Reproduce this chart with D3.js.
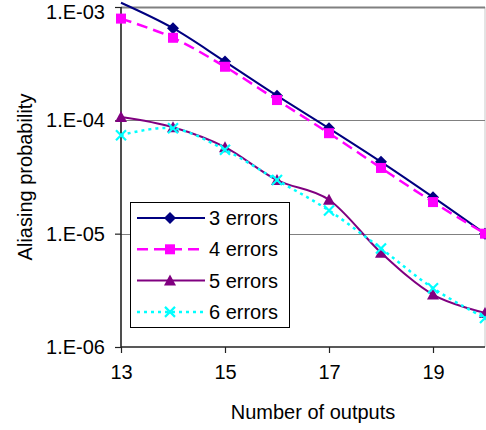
<!DOCTYPE html>
<html>
<head>
<meta charset="utf-8">
<script src="https://cdn.jsdelivr.net/npm/d3@7"></script>
<style>
  body { margin: 0; background: #fff; }
  text { font-family: "Liberation Sans", Arial, sans-serif; fill: #000; }
</style>
</head>
<body>
<script>
// Chart values
var outputs = [13, 14, 15, 16, 17, 18, 19, 20];
var errors3 = [1.09e-3, 6.5e-4, 3.3e-4, 1.65e-4, 8.5e-5, 4.3e-5, 2.1e-5, 1.0e-5];
var errors4 = [7.9e-4, 5.35e-4, 2.97e-4, 1.51e-4, 7.7e-5, 3.8e-5, 1.9e-5, 1.0e-5];
var errors5 = [1.07e-4, 8.7e-5, 5.8e-5, 2.97e-5, 1.99e-5, 6.8e-6, 2.9e-6, 2.0e-6];
var errors6 = [7.4e-5, 8.5e-5, 5.5e-5, 2.97e-5, 1.6e-5, 7.4e-6, 3.3e-6, 1.8e-6];
var seriesNames = ["3 errors", "4 errors", "5 errors", "6 errors"];
var yTicks = [1e-6, 1e-5, 1e-4, 1e-3];
var yTickLabels = ["1.E-06", "1.E-05", "1.E-04", "1.E-03"];
var xTicks = [13, 15, 17, 19];

var svgWidth = 486;
var svgHeight = 430;
var margin = { top: 7, right: 1, bottom: 83, left: 121 };
var chartWidth = svgWidth - margin.left - margin.right;
var chartHeight = svgHeight - margin.top - margin.bottom;

var svg = d3.select("body")
  .append("svg")
  .attr("width", svgWidth)
  .attr("height", svgHeight);

var x = d3.scaleLinear().domain([13, 20]).range([0, chartWidth]);
var y = d3.scaleLog().domain([1e-6, 1e-3]).range([chartHeight, 0]);

var g = svg.append("g")
  .attr("transform", "translate(" + margin.left + "," + margin.top + ")");

// right border of plot area
g.append("line")
  .attr("x1", chartWidth).attr("x2", chartWidth)
  .attr("y1", 0).attr("y2", chartHeight)
  .attr("stroke", "#c8c8c8").attr("stroke-width", 1);

// gridlines
g.selectAll(".grid")
  .data(yTicks.slice(1))
  .enter()
  .append("line")
  .attr("class", "grid")
  .attr("x1", 0).attr("x2", chartWidth)
  .attr("y1", function(d) { return Math.round(y(d)) + 0.5; })
  .attr("y2", function(d) { return Math.round(y(d)) + 0.5; })
  .attr("stroke", "#808080")
  .attr("stroke-width", function(d) { return d === 1e-3 ? 2 : 1; });

// axes
var yAxis = d3.axisLeft(y)
  .tickValues(yTicks)
  .tickFormat(function(d, i) { return yTickLabels[i]; })
  .tickSize(6)
  .tickPadding(10);

var xAxis = d3.axisBottom(x)
  .tickValues(xTicks)
  .tickFormat(d3.format("d"))
  .tickSize(6)
  .tickPadding(12);

var yg = g.append("g").call(yAxis);
var xg = g.append("g").attr("transform", "translate(0," + chartHeight + ")").call(xAxis);

[yg, xg].forEach(function(a) {
  a.select(".domain").attr("stroke", "#222").attr("stroke-width", 1.6);
  a.selectAll(".tick line").attr("stroke", "#222").attr("stroke-width", 1.2);
  a.selectAll("text").style("font-size", "20px").style("font-family", "Liberation Sans, Arial, sans-serif").attr("fill", "#000");
});
yg.select(".domain").attr("d", "M0," + chartHeight + "V0");
xg.select(".domain").attr("d", "M0,0H" + chartWidth);
// top label sits a little lower so it is not cut at the edge
yg.selectAll(".tick text").filter(function(d) { return d === 1e-3; }).attr("dy", "0.56em");

// series
var series = [
  { name: seriesNames[0], values: errors3, color: "#000080", dash: null, width: 2, marker: "diamond" },
  { name: seriesNames[1], values: errors4, color: "#ff00ff", dash: "11,6", width: 2.5, marker: "square" },
  { name: seriesNames[2], values: errors5, color: "#800080", dash: null, width: 2, marker: "triangle" },
  { name: seriesNames[3], values: errors6, color: "#00ffff", dash: "3,4", width: 2.5, marker: "x" }
];

var line = d3.line()
  .x(function(d) { return x(d[0]); })
  .y(function(d) { return y(d[1]); })
  .curve(d3.curveCardinal.tension(0));

function drawMarker(sel, type, color) {
  if (type === "diamond") {
    sel.append("path").attr("d", "M0,-6L6,0L0,6L-6,0Z").attr("fill", color);
  } else if (type === "square") {
    sel.append("rect").attr("x", -5).attr("y", -5).attr("width", 10).attr("height", 10).attr("fill", color);
  } else if (type === "triangle") {
    sel.append("path").attr("d", "M0,-6L6,5L-6,5Z").attr("fill", color);
  } else {
    sel.append("path").attr("d", "M-5,-5L5,5M-5,5L5,-5")
      .attr("stroke", color).attr("stroke-width", 2.2).attr("fill", "none");
  }
}

series.forEach(function(s) {
  var pts = outputs.map(function(o, i) { return [o, s.values[i]]; });
  g.append("path")
    .datum(pts)
    .attr("fill", "none")
    .attr("stroke", s.color)
    .attr("stroke-width", s.width)
    .attr("stroke-dasharray", s.dash)
    .attr("d", line);

  // markers outside the axis range are not drawn
  g.selectAll(null)
    .data(pts.filter(function(d) { return d[1] <= 1e-3; }))
    .enter()
    .append("g")
    .attr("transform", function(d) { return "translate(" + x(d[0]) + "," + y(d[1]) + ")"; })
    .each(function() { drawMarker(d3.select(this), s.marker, s.color); });
});

// legend
var legend = svg.append("g").attr("transform", "translate(130,202)");
legend.append("rect")
  .attr("x", 0.5).attr("y", 0.5)
  .attr("width", 159).attr("height", 125)
  .attr("fill", "#fff").attr("stroke", "#000").attr("stroke-width", 1);

series.forEach(function(s, i) {
  var row = legend.append("g").attr("transform", "translate(0," + (16 + i * 31.3) + ")");
  row.append("line")
    .attr("x1", 7).attr("x2", 75)
    .attr("stroke", s.color)
    .attr("stroke-width", s.width)
    .attr("stroke-dasharray", s.dash);
  drawMarker(row.append("g").attr("transform", "translate(40,0)"), s.marker, s.color);
  row.append("text")
    .attr("x", 79).attr("y", 7)
    .style("font-size", "20px")
    .text(s.name);
});

// axis titles
svg.append("text")
  .attr("x", 313).attr("y", 419)
  .attr("text-anchor", "middle")
  .style("font-size", "20px")
  .text("Number of outputs");

svg.append("text")
  .attr("transform", "translate(32," + (margin.top + chartHeight / 2) + ") rotate(-90)")
  .attr("text-anchor", "middle")
  .style("font-size", "20px")
  .text("Aliasing probability");
</script>
</body>
</html>
